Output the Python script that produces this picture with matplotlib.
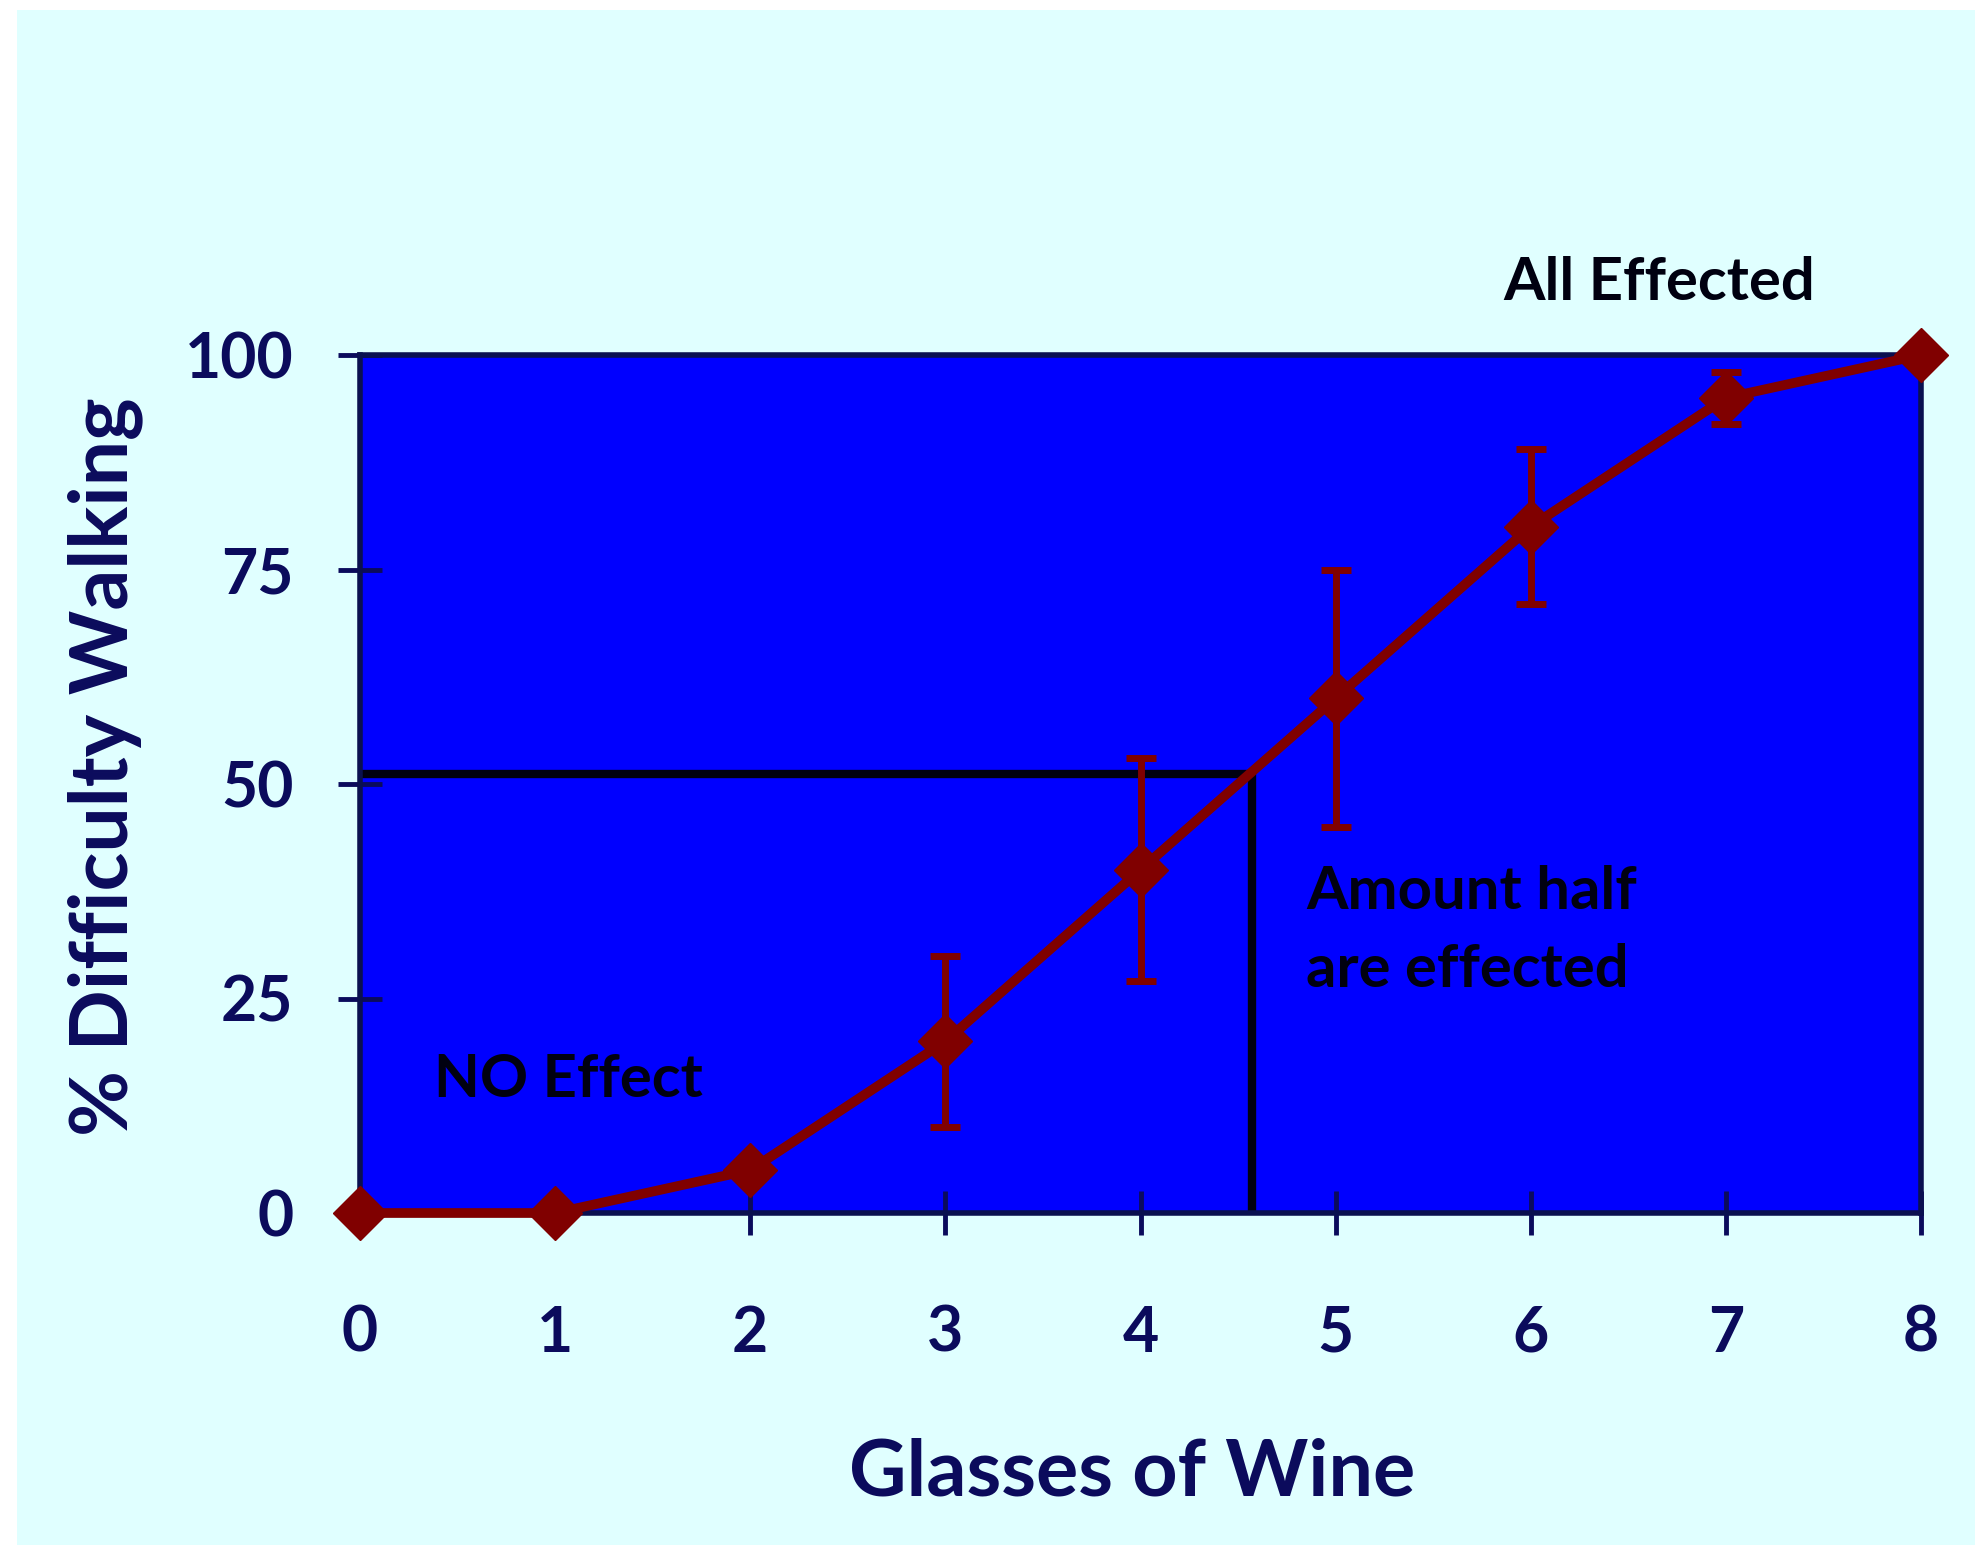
import matplotlib
matplotlib.use("Agg")
import matplotlib.pyplot as plt
from matplotlib.patches import Rectangle

# ---- data ----
glasses = [0, 1, 2, 3, 4, 5, 6, 7, 8]
difficulty = [0, 0, 5, 20, 40, 60, 80, 95, 100]
errors = [0, 0, 0, 10, 13, 15, 9, 3, 0]
x_ticks = [0, 1, 2, 3, 4, 5, 6, 7, 8]
y_ticks = [0, 25, 50, 75, 100]
half_x = 4.57
half_y = 51.2
x_label = "Glasses of Wine"
y_label = "% Difficulty Walking"
notes = ["All Effected", "NO Effect", "Amount half\nare effected"]
note_pos = [(5.86, 106.4), (0.38, 13.5), (4.85, 26.3)]

W, H = 1975, 1545
navy = "#0b0b5c"
maroon = "#800000"

plt.rcParams['font.family'] = ['Lato', 'DejaVu Sans']

fig = plt.figure(figsize=(W / 100, H / 100), dpi=100)
fig.patch.set_facecolor("white")
fig.patches.append(Rectangle((17 / W, 0), 1 - 17 / W, 1 - 10 / H,
                             transform=fig.transFigure, facecolor="#E0FFFF",
                             edgecolor="none", zorder=-10))

ax = fig.add_axes([360 / W, 1 - 1213 / H, 1561 / W, 858 / H])
ax.set_zorder(1)
ax.set_facecolor("#0000FF")
ax.set_xlim(0, 8)
ax.set_ylim(0, 100)

for s in ax.spines.values():
    s.set_linewidth(4)
    s.set_color("#0a1050")

# reference lines
ax.plot([0, half_x], [half_y, half_y], color="#000010", lw=6, zorder=1.5,
        solid_capstyle="butt")
ax.plot([half_x, half_x], [0, half_y], color="#000010", lw=6, zorder=1.5,
        solid_capstyle="butt")

ax.errorbar(glasses, difficulty, yerr=errors, fmt="-D", color=maroon,
            ms=28, mec=maroon, lw=7, elinewidth=5, capsize=11, capthick=5,
            clip_on=False, zorder=3)
for art in ax.lines + ax.collections:
    art.set_clip_on(False)

ax.set_xticks(x_ticks)
ax.set_yticks(y_ticks)
ax.set_xticklabels([str(v) for v in x_ticks])
ax.set_yticklabels([str(v) for v in y_ticks])
ax.tick_params(axis="both", direction="inout", length=32, width=3.5,
               color=navy, labelcolor=navy, labelsize=45)
ax.tick_params(axis="x", pad=50)
ax.tick_params(axis="y", pad=32)
for lab in ax.get_xticklabels() + ax.get_yticklabels():
    lab.set_fontweight("bold")

fig.text(1132 / W, 1 - 1495 / H, x_label, ha="center", va="baseline",
         fontsize=57, fontweight="bold", color=navy)
fig.text(105 / W, 1 - 767 / H, y_label, ha="center", va="center",
         rotation=90, fontsize=58, fontweight="bold", color=navy)

for txt, (tx, ty) in zip(notes, note_pos):
    ax.text(tx, ty, txt, ha="left", va="baseline", fontsize=43,
            fontweight="bold", color="#000010", clip_on=False,
            linespacing=1.55, zorder=4)

fig.savefig("out.png", dpi=100, facecolor=fig.get_facecolor())
